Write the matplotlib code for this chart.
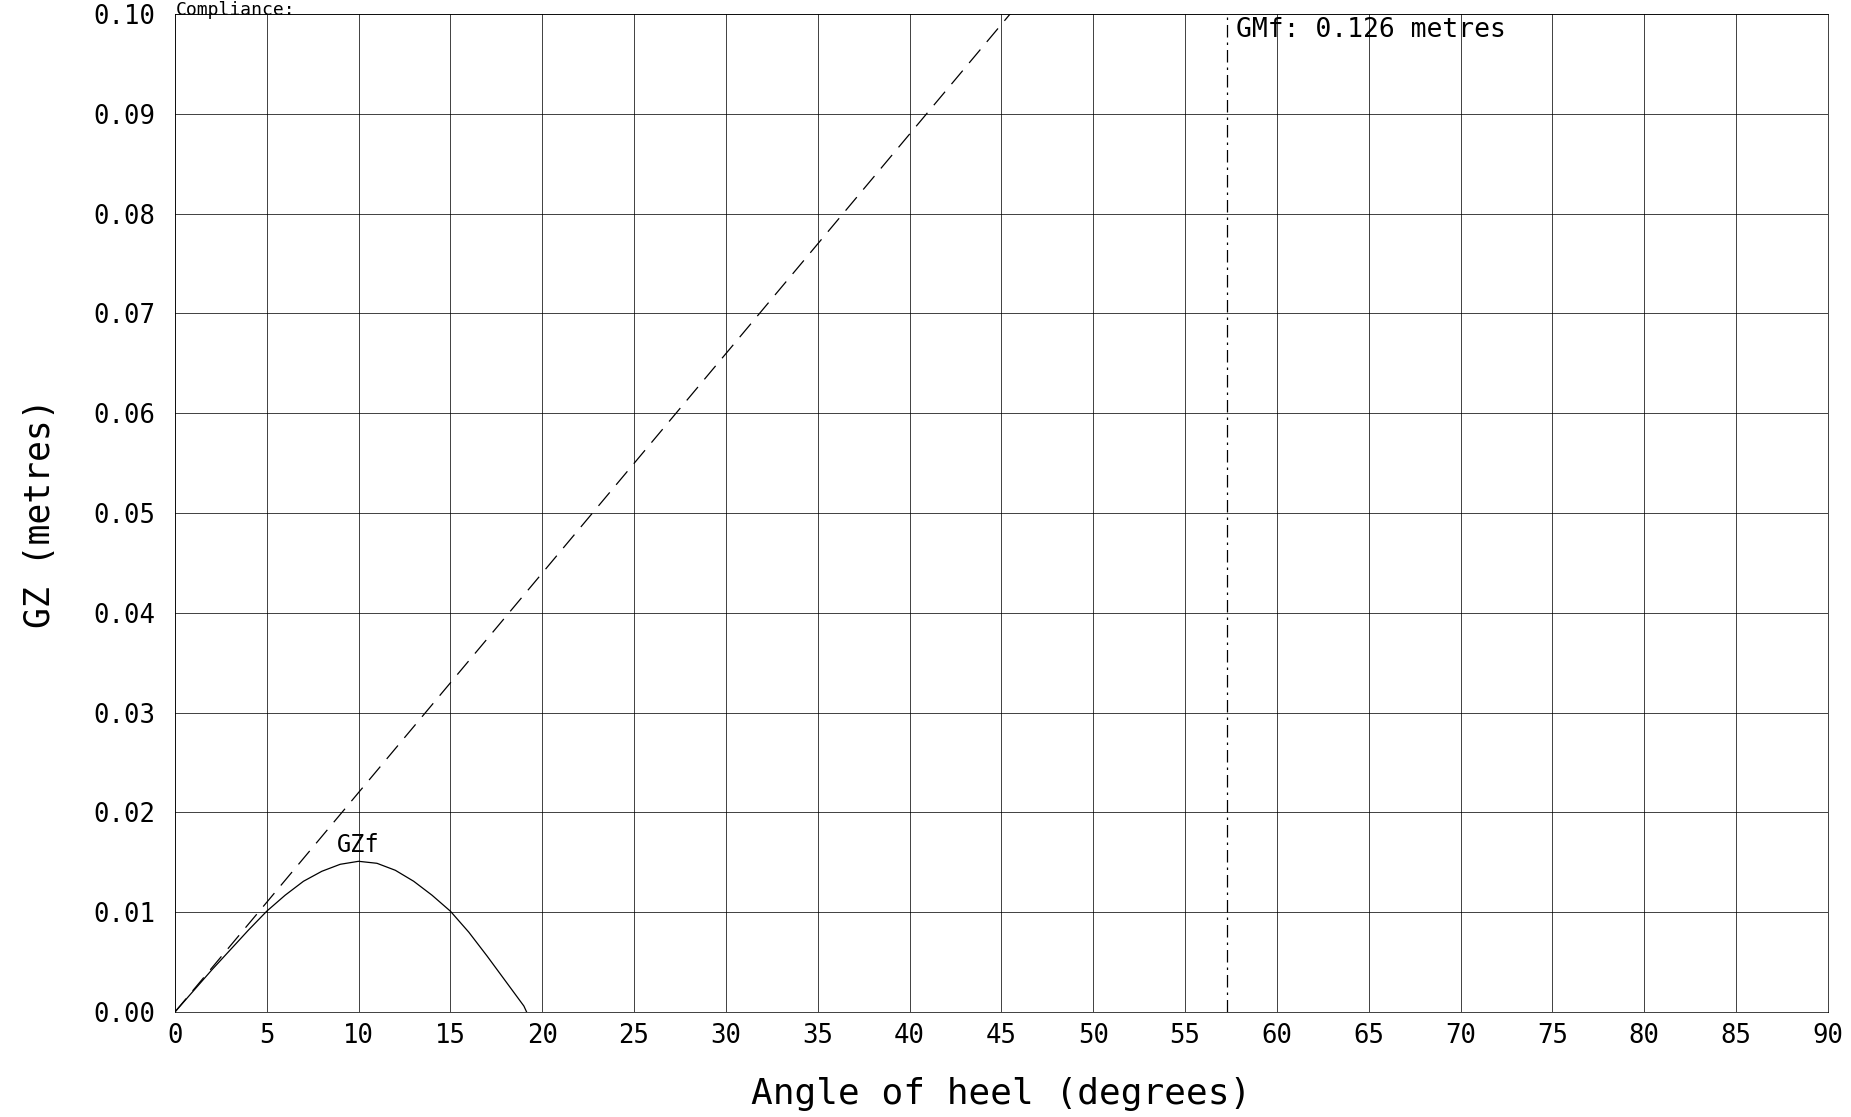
import numpy as np
import matplotlib
matplotlib.use("Agg")
import matplotlib.pyplot as plt

# GZ curve (flooded condition)
heel = [0, 1, 2, 3, 4, 5, 6, 7, 8, 9, 10, 11, 12, 13, 14, 15, 16, 17, 18, 19, 19.15]
gzf = [0.0, 0.0021, 0.0042, 0.0062, 0.0082, 0.0101, 0.0117, 0.0131, 0.0141, 0.0148,
       0.0151, 0.0149, 0.0142, 0.0131, 0.0117, 0.0101, 0.0080, 0.0056, 0.0031, 0.0006, 0.0]

gmf = 0.126            # metres
one_rad = 57.3         # degrees
xticks = list(range(0, 91, 5))
yticks = [0.00, 0.01, 0.02, 0.03, 0.04, 0.05, 0.06, 0.07, 0.08, 0.09, 0.10]

plt.rcParams["font.family"] = "DejaVu Sans Mono"

fig = plt.figure(figsize=(18.51, 11.17), dpi=100)
ax = fig.add_axes([0.0945, 0.094, 0.893, 0.8935])

ax.plot(heel, gzf, color="black", linewidth=0.9)
ax.plot([0, one_rad], [0, gmf], color="black", linewidth=0.9, dashes=(14, 8))
ax.axvline(one_rad, color="black", linewidth=0.9, linestyle=(0, (10, 4, 2, 4)))

ax.text(10, 0.0155, "GZf", ha="center", va="bottom", fontsize=17)
ax.text(one_rad + 0.5, 0.0997, "GMf: 0.126 metres", ha="left", va="top", fontsize=19)

ax.set_xlim(0, 90)
ax.set_ylim(0, 0.10)
ax.set_xticks(xticks)
ax.set_yticks(yticks)
ax.set_xticklabels([str(t) for t in xticks])
ax.set_yticklabels([f"{t:.2f}" for t in yticks])
ax.tick_params(length=0, labelsize=18.5)
ax.tick_params(axis="x", pad=8)
ax.tick_params(axis="y", pad=14)
ax.grid(True, color="black", linewidth=0.7, alpha=0.75)
for s in ax.spines.values():
    s.set_linewidth(0.7)
    s.set_alpha(0.75)

ax.set_xlabel("Angle of heel (degrees)", fontsize=26, labelpad=20)
ax.set_ylabel("GZ (metres)", fontsize=25, labelpad=26)

fig.text(0.095, 0.9995, "Compliance:", ha="left", va="top", fontsize=13)

fig.savefig("out.png", dpi=100, facecolor="white")
